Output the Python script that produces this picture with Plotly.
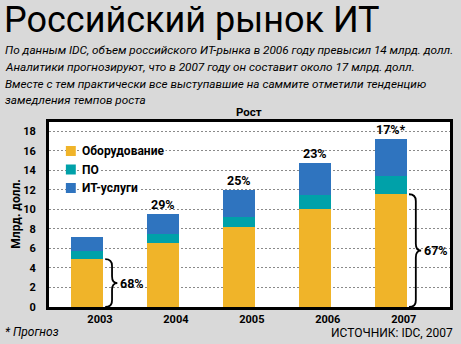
import plotly.graph_objects as go

years = ["2003", "2004", "2005", "2006", "2007"]
hardware = [4.9, 6.55, 8.15, 10.0, 11.55]
software = [0.8, 0.9, 1.1, 1.45, 1.85]
services = [1.5, 2.05, 2.7, 3.25, 3.8]
growth = ["", "29%", "25%", "23%", "17%*"]
series_names = ["Оборудование", "ПО", "ИТ-услуги"]
share_labels = {0: "68%", 4: "67%"}
y_ticks = [0, 2, 4, 6, 8, 10, 12, 14, 16, 18]

C_HW = "#F0B429"
C_SW = "#00A1A9"
C_SV = "#2F74BF"
BG = "#D9D9D9"
FONT = "Roboto"

W, H = 461, 344
L, R, T, B = 49, 8, 122, 37
PW, PH = W - L - R, H - T - B


def pxx(px):
    return (px - L) / PW


def pxy(py):
    return (H - B - py) / PH


x = list(range(len(years)))
totals = [a + b + c for a, b, c in zip(hardware, software, services)]

fig = go.Figure()
for vals, name, col in [(hardware, series_names[0], C_HW),
                        (software, series_names[1], C_SW),
                        (services, series_names[2], C_SV)]:
    fig.add_trace(go.Bar(x=x, y=vals, name=name, marker=dict(color=col, line=dict(width=0)),
                         width=0.42, showlegend=False))

# growth labels
for i, g in enumerate(growth):
    if g:
        fig.add_annotation(x=i, y=totals[i], xref="x", yref="y", text=f"<b>{g}</b>",
                           showarrow=False, yanchor="bottom", yshift=0,
                           font=dict(family=FONT, size=12.5, color="black"))

# braces
for i, lab in share_labels.items():
    y1 = hardware[i]
    y0 = 0.0
    ym = (y0 + y1) / 2
    xl = i + 0.24
    xm = i + 0.33
    xr = i + 0.40
    r = 0.7
    path = (f"M {xl},{y1} Q {xm},{y1} {xm},{y1 - r} L {xm},{ym + r} "
            f"Q {xm},{ym} {xr},{ym} Q {xm},{ym} {xm},{ym - r} "
            f"L {xm},{y0 + r} Q {xm},{y0} {xl},{y0}")
    fig.add_shape(type="path", path=path, xref="x", yref="y",
                  line=dict(color="black", width=1.8))
    fig.add_annotation(x=xr, y=ym, xref="x", yref="y", text=f"<b>{lab}</b>",
                       showarrow=False, xanchor="left", yanchor="middle", xshift=1,
                       font=dict(family=FONT, size=12.5, color="black"))

# manual legend
for k, (name, col) in enumerate(zip(series_names, [C_HW, C_SW, C_SV])):
    cy = 151 + k * 18.5
    fig.add_shape(type="rect", xref="paper", yref="paper",
                  x0=pxx(66), x1=pxx(76), y0=pxy(cy + 5), y1=pxy(cy - 5),
                  fillcolor=col, line=dict(width=0))
    fig.add_annotation(x=pxx(80), y=pxy(cy), xref="paper", yref="paper",
                       text=f"<b>{name}</b>", showarrow=False, xanchor="left", yanchor="middle",
                       font=dict(family=FONT, size=12, color="black"), bgcolor="white")

# title and texts
fig.add_annotation(x=pxx(2), y=pxy(20), xref="paper", yref="paper", text="Российский рынок ИТ",
                   showarrow=False, xanchor="left", yanchor="middle",
                   font=dict(family=FONT, size=36, color="black"))
sub = ["По данным IDC, объем российского ИТ-рынка в 2006 году превысил 14 млрд. долл.",
       "Аналитики прогнозируют, что в 2007 году он составит около 17 млрд. долл.",
       "Вместе с тем практически все выступавшие на саммите отметили тенденцию",
       "замедления темпов роста"]
for k, s in enumerate(sub):
    fig.add_annotation(x=pxx(3), y=pxy(50 + k * 16.8), xref="paper", yref="paper",
                       text=f"<i>{s}</i>", showarrow=False, xanchor="left", yanchor="middle",
                       font=dict(family=FONT, size=11.75, color="black"))
fig.add_annotation(x=pxx(250), y=pxy(112), xref="paper", yref="paper", text="<b>Рост</b>",
                   showarrow=False, xanchor="center", yanchor="middle",
                   font=dict(family=FONT, size=11.5, color="black"))
fig.add_annotation(x=pxx(15), y=0.5, xref="paper", yref="paper", text="<b>Млрд. долл.</b>",
                   showarrow=False, textangle=-90, xanchor="center", yanchor="middle",
                   font=dict(family=FONT, size=12, color="black"))
fig.add_annotation(x=pxx(3), y=pxy(332), xref="paper", yref="paper", text="<i>* Прогноз</i>",
                   showarrow=False, xanchor="left", yanchor="middle",
                   font=dict(family=FONT, size=12, color="black"))
fig.add_annotation(x=pxx(458), y=pxy(333), xref="paper", yref="paper", text="ИСТОЧНИК: IDC, 2007",
                   showarrow=False, xanchor="right", yanchor="middle",
                   font=dict(family=FONT, size=12, color="black"))

fig.update_layout(
    width=W, height=H, margin=dict(l=L, r=R, t=T, b=B),
    paper_bgcolor=BG, plot_bgcolor="white", barmode="stack", showlegend=False,
    font=dict(family=FONT, color="black"),
)
fig.update_xaxes(range=[-0.5, 4.78], tickvals=x, ticktext=[f"<b>{y}</b>" for y in years],
                 ticklabelshift=13, ticks="", showgrid=False, zeroline=False,
                 showline=True, linecolor="black", linewidth=3, mirror=True,
                 tickfont=dict(family=FONT, size=11, color="black"), fixedrange=True)
fig.update_yaxes(range=[0, 18.95], tickvals=y_ticks, ticktext=[f"<b>{v}</b>" for v in y_ticks],
                 showgrid=True, gridcolor="#8A8A8A", gridwidth=1, griddash="2px,2px",
                 zeroline=False, showline=True, linecolor="black", linewidth=3, mirror=True,
                 ticks="", ticklabelstandoff=8,
                 tickfont=dict(family=FONT, size=11, color="black"), fixedrange=True)

fig.write_html("out.html", config={"displayModeBar": False})
